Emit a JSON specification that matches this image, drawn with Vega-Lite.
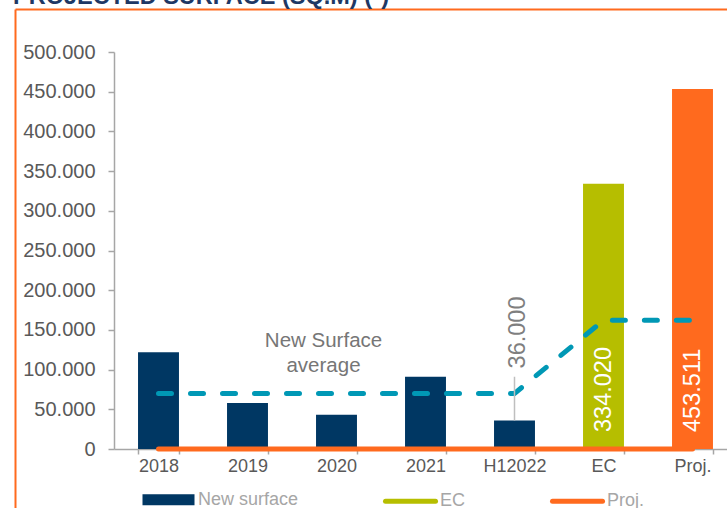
{
  "$schema": "https://vega.github.io/schema/vega-lite/v6.json",
  "width": 613,
  "height": 397,
  "autosize": {"type": "none"},
  "padding": {"left": 114, "top": 52, "right": 0, "bottom": 59},
  "background": "white",
  "config": {
    "font": "Liberation Sans",
    "view": {"stroke": null},
    "axis": {"grid": false}
  },
  "title": {
    "text": "PROJECTED SURFACE (SQ.M) (*)",
    "anchor": "start",
    "frame": "group",
    "dx": -101,
    "offset": -18,
    "fontSize": 23.5,
    "fontWeight": "bold",
    "color": "#1f3864",
    "baseline": "alphabetic"
  },
  "data": {
    "values": [
      {"cat": "2018", "v": 122000, "series": "New surface", "avg": 70000, "zero": 0, "lbl": ""},
      {"cat": "2019", "v": 58000, "series": "New surface", "avg": 70000, "zero": 0, "lbl": ""},
      {"cat": "2020", "v": 43000, "series": "New surface", "avg": 70000, "zero": 0, "lbl": ""},
      {"cat": "2021", "v": 91000, "series": "New surface", "avg": 70000, "zero": 0, "lbl": ""},
      {"cat": "H12022", "v": 36000, "series": "New surface", "avg": 70000, "zero": 0, "lbl": "36.000"},
      {"cat": "EC", "v": 334020, "series": "EC", "avg": 162000, "zero": 0, "lbl": "334.020"},
      {"cat": "Proj.", "v": 453511, "series": "Proj.", "avg": 162000, "zero": 0, "lbl": "453.511"}
    ]
  },
  "resolve": {"scale": {"x": "independent", "y": "independent"}, "axis": {"x": "independent", "y": "independent"}},
  "layer": [
    {
      "encoding": {
        "x": {
          "field": "cat",
          "type": "nominal",
          "sort": null,
          "title": null,
          "scale": {"range": [0, 623], "paddingInner": 0.54, "paddingOuter": 0.27},
          "axis": {
            "labelAngle": 0,
            "labelFontSize": 18,
            "labelColor": "#595959",
            "domainColor": "#a6a6a6",
            "domainWidth": 1.5,
            "tickColor": "#a6a6a6",
            "tickSize": 5,
            "tickWidth": 1.5,
            "tickBand": "extent",
            "labelPadding": 3
          }
        }
      },
      "layer": [
        {
          "mark": {"type": "bar"},
          "encoding": {
            "y": {
              "field": "v",
              "type": "quantitative",
              "title": null,
              "scale": {"domain": [0, 500000]},
              "axis": {
                "tickCount": 10,
                "labelExpr": "replace(format(datum.value, ','), /,/g, '.')",
                "labelOverlap": false,
                "labelFontSize": 20,
                "labelColor": "#595959",
                "labelPadding": 13,
                "domainColor": "#a6a6a6",
                "domainWidth": 1.5,
                "tickColor": "#a6a6a6",
                "tickSize": 6,
                "tickWidth": 1.5
              }
            },
            "color": {
              "field": "series",
              "type": "nominal",
              "scale": {"domain": ["New surface", "EC", "Proj."], "range": ["#003763", "#b6be00", "#ff6a1e"]},
              "legend": {
                "orient": "none",
                "legendX": 27,
                "legendY": 420,
                "direction": "horizontal",
                "title": null,
                "padding": 0,
                "labelFontSize": 18,
                "labelColor": "#a6a6a6",
                "labelOffset": 2,
                "columnPadding": 76,
                "symbolType": "M-1,0H1",
                "symbolSize": 2500,
                "symbolStrokeWidth": 5,
                "encode": {
                  "symbols": {
                    "update": {
                      "shape": {"signal": "datum.value === 'New surface' ? 'M-0.94,-0.12H0.94V0.12H-0.94Z' : 'M-1,0H1'"},
                      "fill": {"signal": "datum.value === 'New surface' ? scale('color', datum.value) : 'transparent'"},
                      "stroke": {"signal": "scale('color', datum.value)"},
                      "strokeCap": {"value": "round"}
                    }
                  }
                }
              }
            }
          }
        },
        {
          "mark": {"type": "line", "color": "#ff6a1e", "strokeWidth": 5, "strokeCap": "round"},
          "encoding": {"y": {"field": "zero", "type": "quantitative", "title": null}}
        },
        {
          "mark": {"type": "line", "color": "#0098b5", "strokeWidth": 5, "strokeDash": [13, 19], "strokeCap": "round"},
          "encoding": {"y": {"field": "avg", "type": "quantitative", "title": null}}
        },
        {
          "transform": [{"filter": "datum.cat === 'H12022'"}],
          "mark": {"type": "rule", "color": "#bfbfbf", "strokeWidth": 1.5},
          "encoding": {
            "y": {"field": "v", "type": "quantitative", "title": null},
            "y2": {"datum": 91000}
          }
        },
        {
          "transform": [{"filter": "datum.cat === 'H12022'"}],
          "mark": {"type": "text", "angle": 270, "align": "left", "baseline": "middle", "dx": 52, "dy": 3, "fontSize": 23.5, "color": "#7f7f7f"},
          "encoding": {
            "y": {"field": "v", "type": "quantitative", "title": null},
            "text": {"field": "lbl"}
          }
        },
        {
          "transform": [{"filter": "datum.cat === 'EC' || datum.cat === 'Proj.'"}],
          "mark": {"type": "text", "angle": 270, "align": "left", "baseline": "middle", "dx": 17, "fontSize": 23.5, "color": "white"},
          "encoding": {
            "y": {"field": "zero", "type": "quantitative", "title": null},
            "text": {"field": "lbl"}
          }
        },
        {
          "transform": [{"filter": "datum.cat === '2020'"}],
          "mark": {"type": "text", "text": ["New Surface", "average"], "align": "center", "baseline": "alphabetic", "dx": -13, "fontSize": 20.5, "lineHeight": 25, "color": "#767676"},
          "encoding": {
            "y": {"datum": 129000}
          }
        }
      ]
    },
    {
      "transform": [{"filter": "datum.cat === '2018'"}],
      "mark": {"type": "point", "opacity": 0},
      "encoding": {
        "x": {
          "field": "zero",
          "type": "quantitative",
          "title": null,
          "scale": {"domain": [0, 1], "range": [-99, 613], "nice": false},
          "axis": {"orient": "top", "offset": 43, "domainColor": "#ff6a1e", "domainWidth": 2, "ticks": false, "labels": false, "grid": false}
        },
        "y": {
          "field": "zero",
          "type": "quantitative",
          "title": null,
          "scale": {"domain": [0, 1], "range": [456, -43], "nice": false},
          "axis": {"orient": "left", "offset": 99, "domainColor": "#ff6a1e", "domainWidth": 2, "ticks": false, "labels": false, "grid": false}
        }
      }
    }
  ]
}
